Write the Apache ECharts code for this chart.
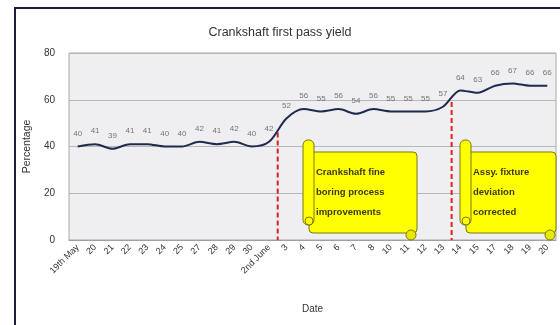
<!DOCTYPE html>
<html>
<head>
<meta charset="utf-8">
<script src="https://cdn.jsdelivr.net/npm/echarts@6/dist/echarts.min.js"></script>
<style>
html,body{margin:0;padding:0;background:#fff;}
#c{width:560px;height:325px;}
</style>
</head>
<body>
<div id="c"></div>
<script>
var categories = ['19th May','20','21','22','23','24','25','27','28','29','30','2nd June',
  '3','4','5','6','7','8','10','11','12','13','14','15','17','18','19','20'];
var yieldValues = [40,41,39,41,41,40,40,42,41,42,40,42,
  52,56,55,56,54,56,55,55,55,57,64,63,66,67,66,66];
var yTicks = [0,20,40,60,80];
// red dashed event markers: [category position, top value]
var event1 = [[11.5, 46], [11.5, 0]];
var event2 = [[21.5, 59], [21.5, 0]];
var note1 = ['Crankshaft fine', 'boring process', 'improvements'];
var note2 = ['Assy. fixture', 'deviation', 'corrected'];

var chart = echarts.init(document.getElementById('c'));
var FONT = '"Liberation Sans", Arial, sans-serif';

function scroll(x, y, w, h, lines) {
  var els = [];
  els.push({type:'rect', shape:{x:x+6, y:y+12, width:w-6, height:h-12, r:4},
    style:{fill:'#ffff00', stroke:'#7a7a10', lineWidth:1}, z:100});
  els.push({type:'rect', shape:{x:x, y:y, width:11, height:h-8, r:5},
    style:{fill:'#ffff00', stroke:'#7a7a10', lineWidth:1}, z:101});
  els.push({type:'circle', shape:{cx:x+6, cy:y+h-12, r:4},
    style:{fill:'#ffff00', stroke:'#7a7a10', lineWidth:1}, z:102});
  els.push({type:'circle', shape:{cx:x+w-6, cy:y+h+2, r:5},
    style:{fill:'#e8e800', stroke:'#7a7a10', lineWidth:1}, z:102});
  els.push({type:'text', x:x+13, y:y+22, z:103,
    style:{text:lines.join('\n'), fill:'#3a3a1a', font:'bold 9.5px ' + FONT, lineHeight:20}});
  return els;
}

var option = {
  animation: false,
  backgroundColor: '#ffffff',
  title: {
    text: 'Crankshaft first pass yield',
    left: 'center', top: 21,
    textStyle: {fontFamily: FONT, fontSize: 12.5, fontWeight: 'normal', color: '#333'}
  },
  grid: {left: 69, right: 4, top: 53, bottom: 85, show: true,
    backgroundColor: '#efeff1', borderColor: '#a8a8a8', borderWidth: 1},
  xAxis: [{
    type: 'category', data: categories, boundaryGap: true,
    name: 'Date', nameLocation: 'middle', nameGap: 64,
    nameTextStyle: {fontFamily: FONT, fontSize: 10, color: '#333'},
    axisLine: {lineStyle: {color: '#a0a0a0'}},
    axisTick: {show: false},
    axisLabel: {rotate: 45, fontFamily: FONT, fontSize: 9, color: '#333', margin: 6, interval: 0}
  }, {
    type: 'value', min: -0.5, max: 27.5, show: false
  }],
  yAxis: {
    type: 'value', min: 0, max: 80, interval: 20,
    name: 'Percentage', nameLocation: 'middle', nameGap: 34,
    nameTextStyle: {fontFamily: FONT, fontSize: 10.5, color: '#333'},
    axisLine: {show: false}, axisTick: {show: false},
    axisLabel: {fontFamily: FONT, fontSize: 10, color: '#333', margin: 14,
      formatter: function (v) { return yTicks.indexOf(v) >= 0 ? String(v) : ''; }},
    splitLine: {lineStyle: {color: '#b8b8b8', width: 1}}
  },
  series: [{
    type: 'line', data: yieldValues, symbol: 'none',
    smooth: 0.3,
    lineStyle: {color: '#1f2a4e', width: 2},
    z: 5
  }, {
    type: 'scatter', data: yieldValues, symbolSize: 2,
    itemStyle: {color: 'rgba(0,0,0,0)'},
    label: {show: true, position: 'top', distance: 8, fontFamily: FONT, fontSize: 8, color: '#555'},
    z: 6
  }, {
    type: 'line', xAxisIndex: 1, data: event1, symbol: 'none',
    lineStyle: {color: '#e02020', width: 2, type: [5, 3]}, z: 4
  }, {
    type: 'line', xAxisIndex: 1, data: event2, symbol: 'none',
    lineStyle: {color: '#e02020', width: 2, type: [5, 3]}, z: 4
  }],
  graphic: [{
    type: 'rect', shape: {x: 15, y: 8, width: 600, height: 400},
    style: {fill: null, stroke: '#1c1c3c', lineWidth: 2}, z: 200, silent: true
  }].concat(scroll(303, 140, 114, 93, note1)).concat(scroll(460, 140, 96, 93, note2))
};
chart.setOption(option);
</script>
</body>
</html>
